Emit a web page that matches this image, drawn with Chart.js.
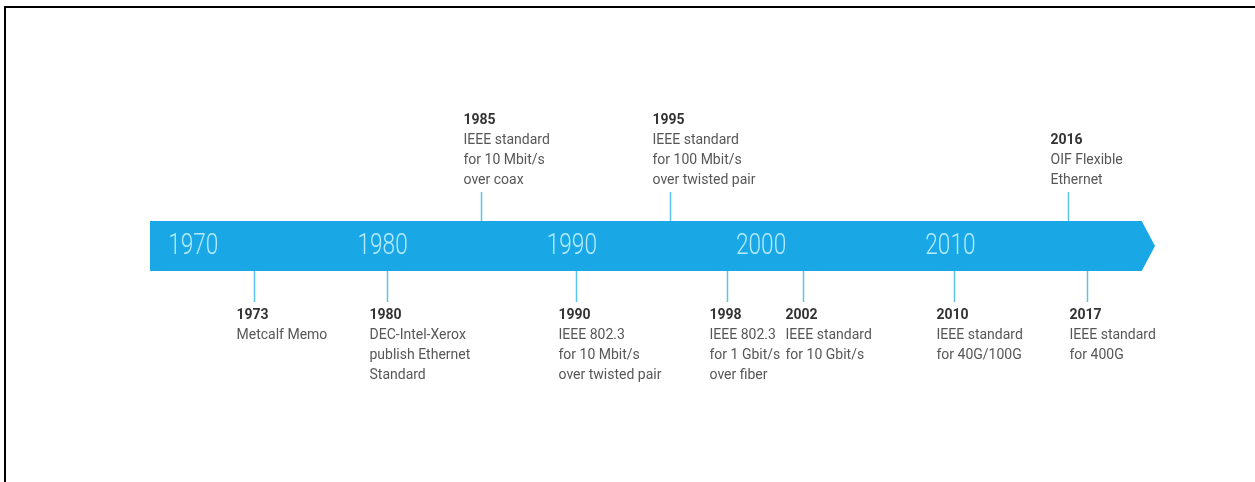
<!DOCTYPE html>
<html>
<head>
<meta charset="utf-8">
<script src="https://cdn.jsdelivr.net/npm/chart.js@4.4.0/dist/chart.umd.min.js"></script>
<style>
  html, body { margin: 0; padding: 0; background: #fff; }
  #frame { position: absolute; left: 4px; top: 6px; right: 0; bottom: 0; border-top: 2px solid #000; border-left: 2px solid #000; }
  #wrap { position: absolute; left: 0; top: 0; width: 1255px; height: 482px; }
</style>
</head>
<body>
<div id="frame"></div>
<div id="wrap"><canvas id="timeline" width="1255" height="482"></canvas></div>
<script>
// decade labels inside the arrow
const decades = [1970, 1980, 1990, 2000, 2010];

// milestones
const eventYears = [1973, 1980, 1985, 1990, 1995, 1998, 2002, 2010, 2016, 2017];
const eventSide = ["below", "below", "above", "below", "above", "below", "below", "below", "above", "below"];
const eventText = [
  ["Metcalf Memo"],
  ["DEC-Intel-Xerox", "publish Ethernet", "Standard"],
  ["IEEE standard", "for 10 Mbit/s", "over coax"],
  ["IEEE 802.3", "for 10 Mbit/s", "over twisted pair"],
  ["IEEE standard", "for 100 Mbit/s", "over twisted pair"],
  ["IEEE 802.3", "for 1 Gbit/s", "over fiber"],
  ["IEEE standard", "for 10 Gbit/s"],
  ["IEEE standard", "for 40G/100G"],
  ["OIF Flexible", "Ethernet"],
  ["IEEE standard", "for 400G"]
];

// extent of the arrow, in years
const barStart = 1967.5;
const barEnd = 2019.9;
const arrowTip = 2020.6;

const timelinePlugin = {
  id: "timeline",
  afterDraw(chart) {
    const ctx = chart.ctx;
    const x = chart.scales.x;
    const top = 221, bottom = 271, mid = (top + bottom) / 2;

    ctx.save();
    // arrow body
    ctx.fillStyle = "#19a7e6";
    ctx.beginPath();
    ctx.moveTo(x.getPixelForValue(barStart), top);
    ctx.lineTo(x.getPixelForValue(barEnd), top);
    ctx.lineTo(x.getPixelForValue(arrowTip), mid);
    ctx.lineTo(x.getPixelForValue(barEnd), bottom);
    ctx.lineTo(x.getPixelForValue(barStart), bottom);
    ctx.closePath();
    ctx.fill();

    // decade labels (condensed look)
    ctx.fillStyle = "#b4ebfc";
    ctx.font = "300 29px Roboto";
    ctx.textAlign = "center";
    ctx.textBaseline = "middle";
    decades.forEach((d) => {
      ctx.save();
      ctx.translate(x.getPixelForValue(d) - 4, mid + 1);
      ctx.scale(0.78, 1);
      ctx.fillText(String(d), 0, 0);
      ctx.restore();
    });

    // milestone ticks + texts
    ctx.textAlign = "left";
    eventYears.forEach((yr, i) => {
      const px = Math.round(x.getPixelForValue(yr)) + 0.5;
      const lines = [String(yr), ...eventText[i]];
      ctx.strokeStyle = "#5cc4ec";
      ctx.lineWidth = 1.5;
      ctx.beginPath();
      if (eventSide[i] === "above") {
        ctx.moveTo(px, 192);
        ctx.lineTo(px, top);
      } else {
        ctx.moveTo(px, bottom);
        ctx.lineTo(px, 302);
      }
      ctx.stroke();

      lines.forEach((txt, j) => {
        const cy = eventSide[i] === "above"
          ? 180 - (lines.length - 1 - j) * 20
          : 315 + j * 20;
        if (j === 0) {
          ctx.font = "bold 14px Roboto";
          ctx.fillStyle = "#333333";
        } else {
          ctx.font = "14px Roboto";
          ctx.fillStyle = "#575757";
        }
        ctx.fillText(txt, px - 18, cy);
      });
    });
    ctx.restore();
  }
};

new Chart(document.getElementById("timeline"), {
  type: "scatter",
  data: {
    datasets: [{
      data: eventYears.map((yr) => ({ x: yr, y: 0 })),
      pointRadius: 0
    }]
  },
  options: {
    responsive: false,
    animation: false,
    layout: { padding: { left: 150, right: 100, top: 0, bottom: 0 } },
    scales: {
      x: { type: "linear", min: barStart, max: arrowTip, display: false },
      y: { min: -1, max: 1, display: false }
    },
    plugins: {
      legend: { display: false },
      tooltip: { enabled: false }
    }
  },
  plugins: [timelinePlugin]
});
</script>
</body>
</html>
